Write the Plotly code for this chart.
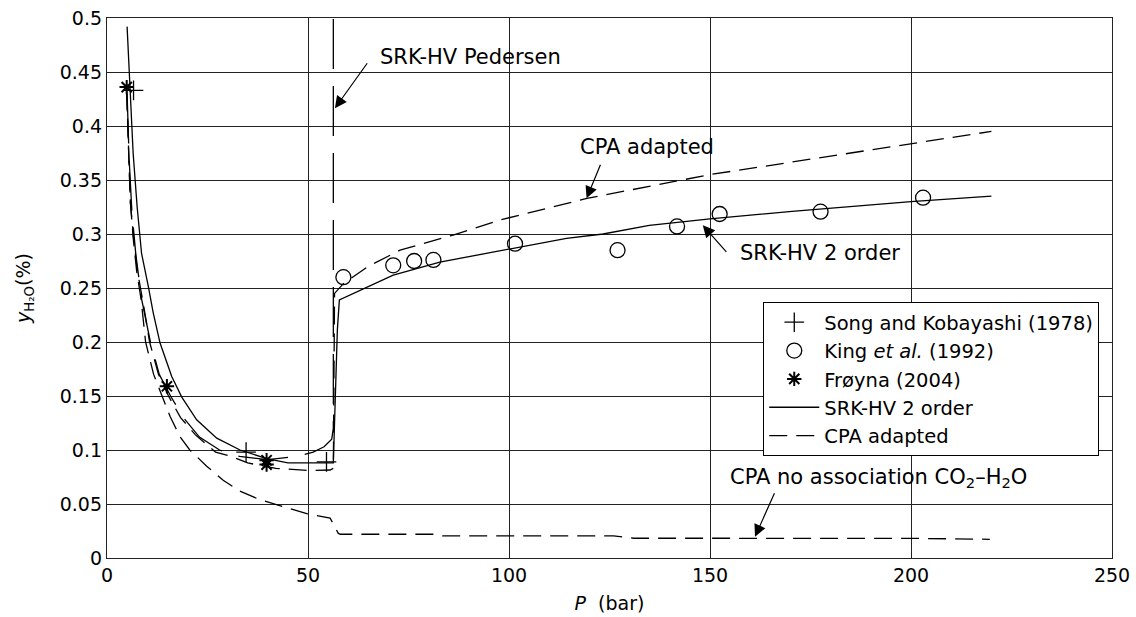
import plotly.graph_objects as go

# ---------------- data ----------------
song_p = [6.6, 34.6, 54.6]
song_y = [0.433, 0.098, 0.089]

king_p = [58.8, 71.2, 76.4, 81.2, 101.5, 127.0, 141.8, 152.4, 177.5, 203.0]
king_y = [0.260, 0.271, 0.275, 0.276, 0.291, 0.285, 0.307, 0.3185, 0.3207, 0.3336]

froyna_p = [4.9, 14.9, 39.7, 39.7]
froyna_y = [0.436, 0.159, 0.0865, 0.0905]

srk2_p = [5.0, 5.7, 6.5, 7.5, 8.6, 10.3, 11.5, 13.2, 16.1, 18.6, 22.3, 27.3, 33.1, 39.7,
          45.0, 56.3, 57.3, 57.8, 64.6, 71.2, 82.8, 94.4, 101.0, 114.3, 123.4, 134.9,
          150.0, 170.4, 200.0, 220.0]
srk2_y = [0.492, 0.436, 0.375, 0.325, 0.282, 0.251, 0.227, 0.199, 0.168, 0.149, 0.128,
          0.111, 0.100, 0.092, 0.088, 0.088, 0.211, 0.239, 0.251, 0.262, 0.274, 0.282,
          0.287, 0.296, 0.300, 0.308, 0.314, 0.321, 0.330, 0.335]

cpa_p = [4.9, 5.3, 5.8, 6.6, 7.6, 9.0, 10.6, 12.8, 15.3, 18.3, 22.0, 27.0, 31.0, 35.0,
         42.0, 50.0, 55.5, 56.3, 56.6, 58.8, 65.0, 72.9, 86.1, 97.8, 112.8, 119.4,
         150.0, 200.0, 220.0]
cpa_y = [0.432, 0.380, 0.330, 0.297, 0.265, 0.236, 0.200, 0.170, 0.150, 0.130, 0.114,
         0.098, 0.094, 0.088, 0.083, 0.081, 0.0815, 0.083, 0.245, 0.254, 0.270, 0.285,
         0.299, 0.313, 0.327, 0.333, 0.355, 0.384, 0.395]

ped_p = [5.0, 5.5, 6.2, 7.2, 8.6, 10.8, 13.0, 15.8, 19.0, 23.0, 28.0, 33.0, 40.0, 47.0,
         51.3, 54.0, 55.9, 56.3, 56.3]
ped_y = [0.430, 0.370, 0.320, 0.280, 0.240, 0.200, 0.170, 0.150, 0.130, 0.112, 0.100,
         0.094, 0.091, 0.094, 0.098, 0.103, 0.110, 0.120, 0.520]

noassoc_p = [4.9, 5.3, 5.8, 6.5, 7.4, 8.5, 9.6, 11.6, 13.7, 15.7, 18.2, 20.6, 24.8,
             28.9, 33.0, 38.0, 43.9, 49.7, 55.5, 57.5, 58.0, 81.2, 83.6, 126.0, 131.0,
             200.5, 219.6]
noassoc_y = [0.430, 0.375, 0.330, 0.297, 0.265, 0.239, 0.200, 0.170, 0.150, 0.131,
             0.112, 0.100, 0.085, 0.072, 0.062, 0.054, 0.0475, 0.041, 0.037, 0.023,
             0.022, 0.022, 0.0204, 0.0204, 0.0183, 0.0182, 0.0173]

x_ticks = [0, 50, 100, 150, 200, 250]
y_ticks = [0, 0.05, 0.1, 0.15, 0.2, 0.25, 0.3, 0.35, 0.4, 0.45, 0.5]
y_tick_labels = ["0", "0.05", "0.1", "0.15", "0.2", "0.25", "0.3", "0.35", "0.4", "0.45", "0.5"]

FONT = "DejaVu Sans, Liberation Sans, sans-serif"
FS = 19
FS_ANN = 21
FS_LEG = 19.5
LW = 1.3

fig = go.Figure()

fig.add_trace(go.Scatter(x=ped_p, y=ped_y, mode="lines", showlegend=False,
                         line=dict(color="black", width=LW, dash="50px,17px")))
fig.add_trace(go.Scatter(x=noassoc_p, y=noassoc_y, mode="lines", showlegend=False,
                         line=dict(color="black", width=LW, dash="18px,9px")))

fig.add_trace(go.Scatter(x=song_p, y=song_y, mode="markers", name="Song and Kobayashi (1978)",
                         marker=dict(symbol="cross-thin", size=14, color="black",
                                     line=dict(color="black", width=1.3))))
fig.add_trace(go.Scatter(x=king_p, y=king_y, mode="markers", name="King <i>et al.</i> (1992)",
                         marker=dict(symbol="circle-open", size=15, color="black",
                                     line=dict(color="black", width=1.3))))
fig.add_trace(go.Scatter(x=froyna_p, y=froyna_y, mode="markers", name="Frøyna (2004)",
                         marker=dict(symbol="asterisk-open", size=12, color="black",
                                     line=dict(color="black", width=2))))
fig.add_trace(go.Scatter(x=srk2_p, y=srk2_y, mode="lines", name="SRK-HV 2 order",
                         line=dict(color="black", width=LW)))
fig.add_trace(go.Scatter(x=cpa_p, y=cpa_y, mode="lines", name="CPA adapted",
                         line=dict(color="black", width=LW, dash="18px,9px")))

# text labels
labels = [
    ("SRK-HV Pedersen", 67.3, 0.464),
    ("CPA adapted", 117.1, 0.381),
    ("SRK-HV 2 order", 157.0, 0.2824),
    ("CPA no association CO<sub>2</sub>–H<sub>2</sub>O", 154.4, 0.074),
]
for txt, x, y in labels:
    fig.add_annotation(x=x, y=y, text=txt, showarrow=False, xanchor="left", yanchor="middle",
                       font=dict(family=FONT, size=FS_ANN, color="black"))

# arrows (head x,y ; tail ax,ay)
arrows = [
    (56.7, 0.4164, 65.0, 0.4595),
    (119.3, 0.333, 122.9, 0.3655),
    (148.2, 0.308, 154.4, 0.282),
    (161.2, 0.0197, 166.2, 0.0614),
]
for x, y, ax, ay in arrows:
    fig.add_annotation(x=x, y=y, ax=ax, ay=ay, xref="x", yref="y", axref="x", ayref="y",
                       text="", showarrow=True, arrowhead=2, arrowsize=2,
                       arrowwidth=1.2, arrowcolor="black", standoff=0)

axis_common = dict(showgrid=True, gridcolor="#222", gridwidth=1.3, showline=True,
                   linecolor="#222", linewidth=1.3, mirror=True, zeroline=False,
                   automargin=False,
                   ticks="", tickfont=dict(family=FONT, size=FS, color="black"))

fig.update_xaxes(range=[0, 250], tickvals=x_ticks, ticktext=[str(v) for v in x_ticks],
                 title=dict(text="<i>P</i>  (bar)", font=dict(family=FONT, size=FS, color="black"),
                            standoff=11),
                 **axis_common)
fig.update_yaxes(range=[0, 0.5], tickvals=y_ticks, ticktext=y_tick_labels,
                 title=dict(text="<i>y</i><sub>H₂O</sub>(%)", font=dict(family=FONT, size=FS, color="black"),
                            standoff=24),
                 **axis_common)

fig.update_layout(
    width=1136, height=617,
    margin=dict(l=107, r=24, t=18, b=59),
    paper_bgcolor="white", plot_bgcolor="white",
    font=dict(family=FONT, size=FS, color="black"),
    legend=dict(x=0.653, y=0.474, xanchor="left", yanchor="top",
                bgcolor="white", bordercolor="black", borderwidth=1,
                font=dict(family=FONT, size=FS_LEG, color="black"),
                itemwidth=50, tracegroupgap=0),
)

fig.write_html("out.html")
